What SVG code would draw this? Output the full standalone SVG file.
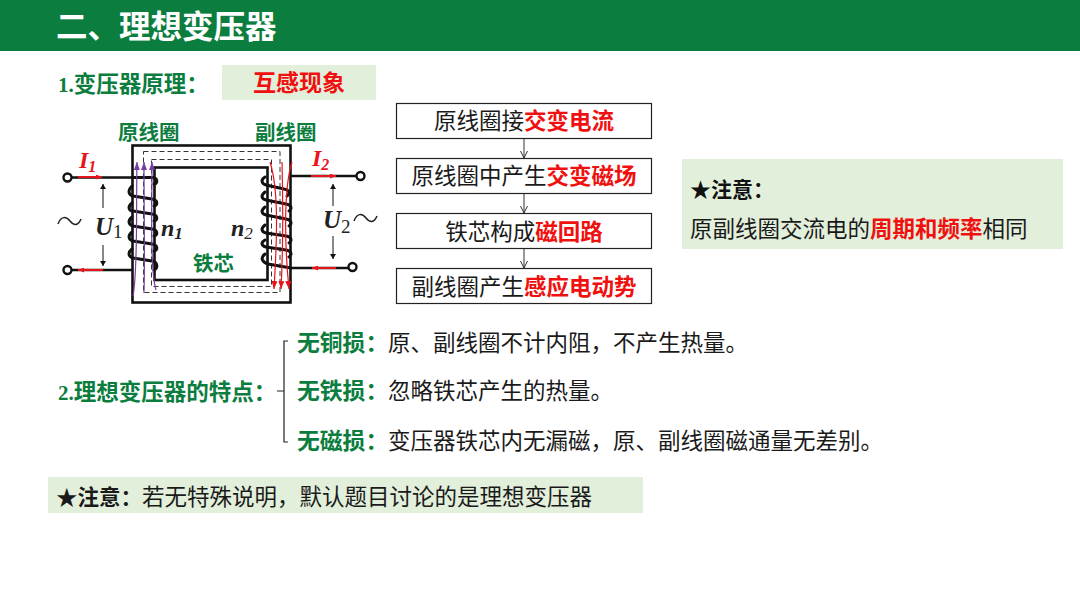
<svg xmlns="http://www.w3.org/2000/svg" width="1080" height="608" viewBox="0 0 1080 608">
<style>
text{font-family:"Noto Sans CJK SC","Noto Sans",sans-serif}
.f{font-size:22.5px;fill:#1a1a1a}
.r{fill:#f01010;font-weight:700}
.g{fill:#0b7d3e;font-weight:700}
.box{fill:#fff;stroke:#222;stroke-width:1.2}
.hl{fill:#e2efda}
.k{fill:none;stroke:#111;stroke-width:2.6}
.coil{fill:none;stroke:#111;stroke-width:3;stroke-linecap:round}
.dash{fill:none;stroke:#333;stroke-width:1;stroke-dasharray:5 3}
.pur{fill:none;stroke:#7a3f9e;stroke-width:1.2;marker-end:url(#pa)}
.red{fill:none;stroke:#e8141c;stroke-width:1.2;marker-end:url(#ra)}
.cur{stroke:#e8141c;stroke-width:2;fill:none;marker-end:url(#rb)}
.ser{font-family:"Liberation Serif",serif;font-style:italic;font-weight:700;fill:#222}
.con{stroke:#333;stroke-width:1;fill:none;marker-end:url(#oa)}
.thin{stroke:#111;stroke-width:1;fill:none;marker-end:url(#ka)}
.tm{fill:#fff;stroke:#111;stroke-width:2.4}
</style>
<defs>
<marker id="pa" markerWidth="8" markerHeight="6" refX="8" refY="3" orient="auto" markerUnits="userSpaceOnUse"><path d="M0 0 L8 3 L0 6Z" fill="#7a3f9e"/></marker>
<marker id="ra" markerWidth="8" markerHeight="6" refX="8" refY="3" orient="auto" markerUnits="userSpaceOnUse"><path d="M0 0 L8 3 L0 6Z" fill="#e8141c"/></marker>
<marker id="rb" markerWidth="6" markerHeight="5" refX="6" refY="2.500" orient="auto" markerUnits="userSpaceOnUse"><path d="M0 0 L6 2.500 L0 5Z" fill="#e8141c"/></marker>
<marker id="oa" markerWidth="9" markerHeight="8" refX="8" refY="4" orient="auto" markerUnits="userSpaceOnUse"><path d="M1 0.500 L8 4 L1 7.500" fill="none" stroke="#333" stroke-width="1"/></marker>
<marker id="ka" markerWidth="6" markerHeight="6" refX="5" refY="3" orient="auto" markerUnits="userSpaceOnUse"><path d="M0 0 L5 3 L0 6Z" fill="#111"/></marker>
</defs>
<rect width="1080" height="608" fill="#fff"/>
<g id="header"><rect width="1080" height="51" fill="#0b7d3e"/><text x="56" y="38" font-size="31.500" font-weight="700" fill="#fff">二、理想变压器</text></g>
<g id="principle">
<text x="58" y="92" font-size="22.500" class="g"><tspan font-family="Liberation Serif" font-size="21">1.</tspan>变压器原理：</text>
<rect x="222" y="65" width="154" height="35" class="hl"/>
<text x="299" y="91" font-size="23" class="r" text-anchor="middle">互感现象</text>
</g>
<g id="transformer">
<text x="118" y="140" font-size="20.500" class="g">原线圈</text>
<text x="255" y="140" font-size="20.500" class="g">副线圈</text>
<rect x="132.500" y="145.500" width="158" height="157" class="k"/>
<rect x="154.500" y="167.500" width="113" height="112.500" class="k"/>
<rect x="143.500" y="151.500" width="136.500" height="141" class="dash"/>
<rect x="151.500" y="159.500" width="120" height="127" class="dash"/>
<path class="k" d="M71 177.500H132M71 270H132M291 176H357M291 268H349"/>
<circle cx="67.500" cy="177.500" r="4" class="tm"/>
<circle cx="67.500" cy="270" r="4" class="tm"/>
<circle cx="360.500" cy="176" r="4" class="tm"/>
<circle cx="352.500" cy="267" r="4" class="tm"/>
<g class="coil">
<path d="M132 177.500H152C158 177.500 158 184 154 184"/>
<path d="M132 186C127 191 129 195 133 196L152 199C158 200 158 205 154 206"/>
<path d="M132 203C127 207 129 211 133 211L152 214C158 215 158 220 154 221"/>
<path d="M132 217C127 221 129 225 133 226L152 229C158 230 158 235 154 236"/>
<path d="M132 232C127 236 129 240 133 241L152 244C158 245 158 250 154 251"/>
<path d="M132 249C127 253 129 257 133 258L152 261C158 262 158 268 154 270"/>
<path d="M265 177C260 180 262 184 266 185L284 189C290 190 290 194 287 196"/>
<path d="M265 192C260 196 262 199 266 200L286 204C292 205 292 209 289 211"/>
<path d="M265 207C260 211 262 214 266 215L286 219C292 220 292 224 289 226"/>
<path d="M265 225C260 229 262 232 266 233L286 236C292 237 292 241 289 243"/>
<path d="M265 240C260 243 262 246 266 247L286 250C292 251 292 255 289 257"/>
<path d="M265 254C260 258 262 262 268 264L291 268"/>
</g>
<path class="pur" d="M133 296C138 270 136 210 137 162"/>
<path class="pur" d="M144 293C145 260 144 210 144 162"/>
<path class="pur" d="M156 290C150 270 152 210 152 162"/>
<path class="red" d="M270 162C279 190 277 240 274 289"/>
<path class="red" d="M282 162C283 200 283 250 281 289"/>
<path class="red" d="M292 162C283 190 285 250 289 289"/>
<path class="cur" d="M78 177H102"/>
<path class="cur" d="M103 270H78"/>
<path class="cur" d="M311 176H336"/>
<path class="cur" d="M336 268H312"/>
<path class="thin" d="M103 208V184"/>
<path class="thin" d="M103 245V266"/>
<path class="thin" d="M333 206V184"/>
<path class="thin" d="M333 236V259"/>
<path d="M58 224C61 216 66 216 70 221C74 226 78 226 81 219" fill="none" stroke="#222" stroke-width="1.500"/>
<path d="M354 221C357 213 362 213 366 218C370 223 374 223 377 216" fill="none" stroke="#222" stroke-width="1.500"/>
<text x="79" y="168" font-size="24" class="ser" style="fill:#e8141c">I<tspan font-size="16" dy="4">1</tspan></text>
<text x="312" y="166" font-size="24" class="ser" style="fill:#e8141c">I<tspan font-size="16" dy="4">2</tspan></text>
<text x="95" y="235" font-size="25" class="ser">U<tspan font-size="19" dy="3" font-style="normal" font-weight="400">1</tspan></text>
<text x="323" y="228" font-size="25" class="ser">U<tspan font-size="19" dy="5" font-style="normal" font-weight="400">2</tspan></text>
<text x="161" y="236" font-size="24" class="ser">n<tspan font-size="17" dy="3">1</tspan></text>
<text x="231" y="236" font-size="24" class="ser">n<tspan font-size="17" dy="3" font-weight="400">2</tspan></text>
<text x="193" y="271" font-size="20.500" class="g">铁芯</text>
</g>
<g id="connectors">
<path class="con" d="M524 139V158"/>
<path class="con" d="M524 194V213"/>
<path class="con" d="M524 249V268"/>
</g>
<g id="node1"><rect x="396.500" y="103.500" width="255" height="35" class="box"/><text x="524" y="129" class="f" text-anchor="middle">原线圈接<tspan class="r">交变电流</tspan></text></g>
<g id="node2"><rect x="396.500" y="158.500" width="255" height="35" class="box"/><text x="524" y="184" class="f" text-anchor="middle">原线圈中产生<tspan class="r">交变磁场</tspan></text></g>
<g id="node3"><rect x="396.500" y="213.500" width="255" height="35" class="box"/><text x="524" y="240" class="f" text-anchor="middle">铁芯构成<tspan class="r">磁回路</tspan></text></g>
<g id="node4"><rect x="396.500" y="268.500" width="255" height="35" class="box"/><text x="524" y="295" class="f" text-anchor="middle">副线圈产生<tspan class="r">感应电动势</tspan></text></g>
<g id="note1">
<rect x="682" y="159" width="381" height="90" class="hl"/>
<text x="690" y="197" font-size="21" font-weight="700" fill="#111">★注意：</text>
<text x="690" y="237" class="f">原副线圈交流电的<tspan class="r">周期和频率</tspan>相同</text>
</g>
<g id="features">
<text x="58" y="400" font-size="22.500" class="g"><tspan font-family="Liberation Serif" font-size="21">2.</tspan>理想变压器的特点：</text>
<path d="M288 341H284V442H288M277 391H284" fill="none" stroke="#222" stroke-width="1.200"/>
<text x="297" y="351" class="f"><tspan class="g" font-size="22.800">无铜损：</tspan><tspan x="388">原、副线圈不计内阻，不产生热量。</tspan></text>
<text x="297" y="399" class="f"><tspan class="g" font-size="22.800">无铁损：</tspan><tspan x="388">忽略铁芯产生的热量。</tspan></text>
<text x="297" y="449" class="f"><tspan class="g" font-size="22.800">无磁损：</tspan><tspan x="388">变压器铁芯内无漏磁，原、副线圈磁通量无差别。</tspan></text>
</g>
<g id="note2">
<rect x="48" y="477" width="595" height="36" class="hl"/>
<text x="56" y="505" font-size="22.500" fill="#1a1a1a"><tspan font-weight="700" font-size="21.500">★注意：</tspan><tspan x="142">若无特殊说明，默认题目讨论的是理想变压器</tspan></text>
</g>
</svg>
